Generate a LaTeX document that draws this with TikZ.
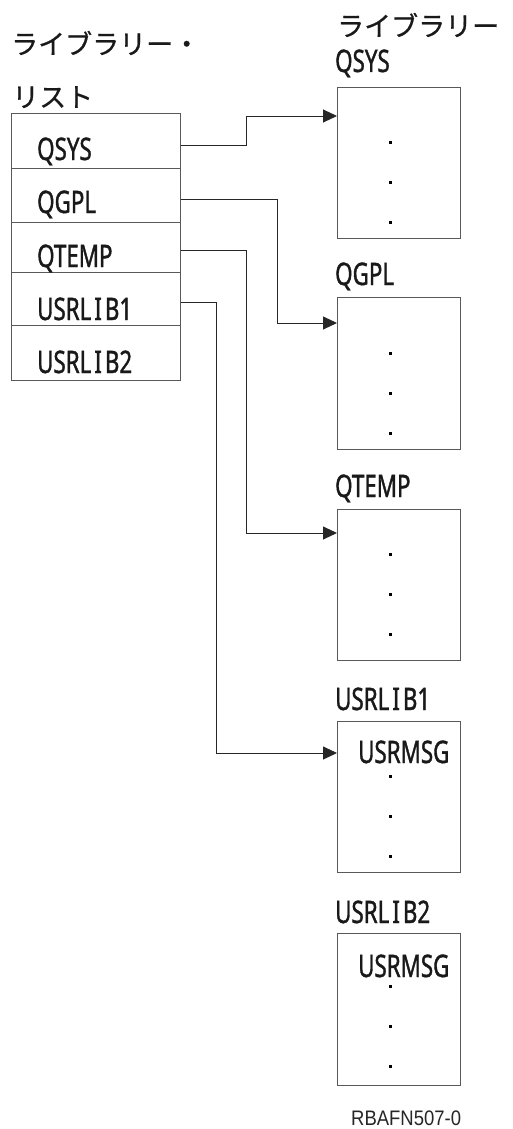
\documentclass[tikz,border=0pt]{standalone}
\usepackage{fontspec}
\setmainfont{Noto Sans}
\newfontfamily\jpf[FakeBold=0.6]{Noto Sans CJK JP}
\newfontfamily\latf[FakeStretch=0.72,FakeBold=1.2]{Noto Sans}
\newfontfamily\rbf[FakeStretch=0.88]{Liberation Sans}
\usetikzlibrary{arrows.meta}
\newcommand{\Ikern}{\kern3pt I\kern3pt}
\begin{document}
\begin{tikzpicture}[x=1pt,y=-1pt,
  libbox/.style={draw=black!65, line width=1.1pt, minimum width=123pt, inner sep=0pt, anchor=north west},
  listrow/.style={draw=black!65, line width=1.1pt, minimum width=169pt, inner sep=0pt, anchor=north west},
  lab/.style={font=\latf\fontsize{31}{31}\selectfont, anchor=base west, inner sep=0pt, text=black!90},
  jt/.style={font=\jpf\fontsize{27}{27}\selectfont, anchor=base west, inner sep=0pt, text=black!90},
  conn/.style={draw=black!85, line width=0.9pt, -{Triangle[length=14pt,width=13pt]}},
  dotmark/.style={fill=black}
]
\useasboundingbox (0,0) rectangle (512,1129);

% titles
\node[jt] (jt1) at (11,54) {ライブラリー・};
\node[jt] (jt2) at (12,107) {リスト};
\node[jt] (jt3) at (337,36) {ライブラリー};

% library list
\node[listrow, minimum height=55pt] (r1) at (11,113) {};
\node[listrow, minimum height=54pt] (r2) at (11,168) {};
\node[listrow, minimum height=50pt] (r3) at (11,222) {};
\node[listrow, minimum height=53pt] (r4) at (11,272) {};
\node[listrow, minimum height=55pt] (r5) at (11,325) {};
\node[lab] (l1) at (37,160) {QSYS};
\node[lab] (l2) at (37,213) {QGPL};
\node[lab] (l3) at (37,267) {QTEMP};
\node[lab] (l4) at (37,320) {USRL\Ikern B1};
\node[lab] (l5) at (37,373) {USRL\Ikern B2};

% libraries
\node[libbox, minimum height=151pt] (b1) at (337,87) {};
\node[libbox, minimum height=152pt] (b2) at (337,297) {};
\node[libbox, minimum height=151pt] (b3) at (337,509) {};
\node[libbox, minimum height=151pt] (b4) at (337,721) {};
\node[libbox, minimum height=152pt] (b5) at (337,933) {};
\node[lab] (t1) at (335,72) {QSYS};
\node[lab] (t2) at (335,285) {QGPL};
\node[lab] (t3) at (335,497) {QTEMP};
\node[lab] (t4) at (335,710) {USRL\Ikern B1};
\node[lab] (t5) at (335,923) {USRL\Ikern B2};
\node[lab] (m4) at (358,763) {USRMSG};
\node[lab] (m5) at (358,977) {USRMSG};

% dots
\foreach \y in {142,182,222, 353,393,433, 554,594,634, 776,816,856, 986,1026,1066}
  \fill[dotmark] (388.5,\y-1.5) rectangle ++(3,3);

% connectors
\coordinate (s1) at ([yshift=-4.5pt]r1.east);
\coordinate (s2) at ([yshift=-4pt]r2.east);
\coordinate (s3) at ([yshift=-3pt]r3.east);
\coordinate (s4) at ([yshift=-3.5pt]r4.east);
\coordinate (e1) at ([yshift=-29pt]b1.north west);
\coordinate (e2) at ([yshift=-26pt]b2.north west);
\coordinate (e3) at ([yshift=-24pt]b3.north west);
\coordinate (e4) at ([yshift=-32pt]b4.north west);
\coordinate (x1) at (246,0);
\coordinate (x2) at (277,0);
\coordinate (x3) at (246,0);
\coordinate (x4) at (216,0);
\draw[conn] (s1) -- (s1 -| x1) |- (e1);
\draw[conn] (s2) -- (s2 -| x2) |- (e2);
\draw[conn] (s3) -- (s3 -| x3) |- (e3);
\draw[conn] (s4) -- (s4 -| x4) |- (e4);

\node[font=\rbf\fontsize{21}{21}\selectfont, anchor=base west, inner sep=0pt, text=black!85] (code) at (351,1125) {RBAFN507-0};
\end{tikzpicture}
\end{document}
